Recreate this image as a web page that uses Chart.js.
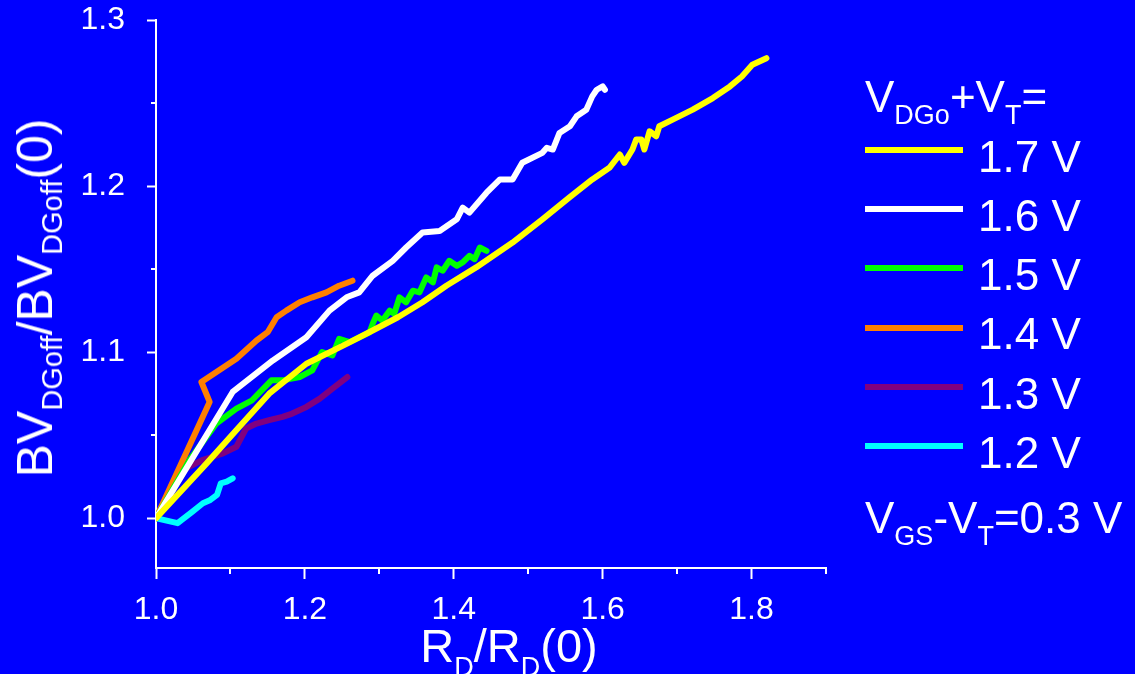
<!DOCTYPE html>
<html>
<head>
<meta charset="utf-8">
<script src="https://cdn.jsdelivr.net/npm/chart.js@4.4.1/dist/chart.umd.min.js"></script>
<style>
  body { margin: 0; background: #0000ff; }
  #wrap { position: relative; width: 1135px; height: 674px; overflow: hidden;
          font-family: 'Liberation Sans', Arial, sans-serif; color: #fff; }
  canvas { position: absolute; left: 0; top: 0; }
  .t { position: absolute; white-space: nowrap; line-height: 1; }
  .s { position: relative; line-height: 0; font-size: 27px; }
  .sw { position: absolute; height: 6px; width: 98px; left: 865px; }
</style>
</head>
<body>
<div id="wrap">
  <canvas id="chart" width="1135" height="674"></canvas>
  <div class="t" id="ytitle">BV<span class="s" style="top:10px;font-size:29px">DGoff</span>/BV<span class="s" style="top:10px;font-size:29px">DGoff</span>(0)</div>
  <div class="t" id="xtitle">R<span class="s" style="top:14px">D</span>/R<span class="s" style="top:14px">D</span>(0)</div>
  <div class="t" id="legtitle">V<span class="s" style="top:12px">DGo</span>+V<span class="s" style="top:12px">T</span>=</div>
  <div class="t" id="note">V<span class="s" style="top:12px">GS</span>-V<span class="s" style="top:12px">T</span>=0.3 V</div>
  <div id="legend"></div>
</div>
<script>
// R_D/R_D(0) vs BV_DGoff/BV_DGoff(0), one curve per V_DGo+V_T
const rd17 = [1.000, 1.068, 1.112, 1.152, 1.202, 1.256, 1.291, 1.325, 1.358, 1.390, 1.430, 1.479, 1.519, 1.555, 1.586, 1.609, 1.623, 1.629, 1.640, 1.645, 1.652, 1.656, 1.663, 1.672, 1.676, 1.694, 1.721, 1.748, 1.771, 1.787, 1.801, 1.820];
const bv17 = [1.000, 1.033, 1.055, 1.075, 1.093, 1.105, 1.113, 1.121, 1.130, 1.140, 1.151, 1.166, 1.180, 1.193, 1.204, 1.211, 1.219, 1.214, 1.222, 1.228, 1.228, 1.222, 1.233, 1.230, 1.236, 1.240, 1.246, 1.253, 1.260, 1.266, 1.273, 1.277];

const rd16 = [1.000, 1.103, 1.157, 1.202, 1.233, 1.256, 1.273, 1.291, 1.318, 1.336, 1.358, 1.381, 1.404, 1.412, 1.421, 1.444, 1.462, 1.479, 1.492, 1.519, 1.525, 1.533, 1.542, 1.556, 1.565, 1.578, 1.586, 1.592, 1.600, 1.603];
const bv16 = [1.000, 1.076, 1.095, 1.109, 1.125, 1.133, 1.136, 1.146, 1.155, 1.163, 1.172, 1.173, 1.180, 1.187, 1.184, 1.196, 1.204, 1.204, 1.214, 1.220, 1.223, 1.222, 1.232, 1.236, 1.242, 1.246, 1.254, 1.258, 1.260, 1.258];

const rd15 = [1.000, 1.045, 1.081, 1.108, 1.129, 1.155, 1.170, 1.193, 1.210, 1.223, 1.237, 1.246, 1.260, 1.287, 1.291, 1.296, 1.304, 1.314, 1.320, 1.327, 1.336, 1.345, 1.354, 1.363, 1.372, 1.377, 1.385, 1.394, 1.404, 1.412, 1.421, 1.428, 1.435, 1.444];
const bv15 = [1.000, 1.035, 1.057, 1.066, 1.071, 1.083, 1.083, 1.085, 1.089, 1.100, 1.098, 1.108, 1.106, 1.112, 1.117, 1.122, 1.119, 1.125, 1.123, 1.133, 1.130, 1.137, 1.136, 1.145, 1.142, 1.151, 1.149, 1.155, 1.152, 1.154, 1.158, 1.156, 1.163, 1.161];

const rd14 = [1.000, 1.072, 1.061, 1.108, 1.135, 1.150, 1.162, 1.175, 1.193, 1.210, 1.229, 1.246, 1.264];
const bv14 = [1.000, 1.070, 1.082, 1.096, 1.107, 1.112, 1.121, 1.125, 1.130, 1.133, 1.136, 1.140, 1.143];

const rd13 = [1.000, 1.036, 1.062, 1.090, 1.108, 1.121, 1.135, 1.152, 1.170, 1.183, 1.202, 1.220, 1.237, 1.257];
const bv13 = [1.000, 1.029, 1.035, 1.039, 1.043, 1.054, 1.057, 1.059, 1.061, 1.063, 1.067, 1.072, 1.078, 1.085];

const rd12 = [1.000, 1.029, 1.049, 1.063, 1.073, 1.082, 1.087, 1.095, 1.103];
const bv12 = [1.000, 0.997, 1.004, 1.009, 1.011, 1.014, 1.021, 1.022, 1.024];

const seriesLabels = ['1.7 V', '1.6 V', '1.5 V', '1.4 V', '1.3 V', '1.2 V'];
const seriesColors = ['#ffff00', '#ffffff', '#00ff00', '#ff8000', '#800080', '#00ffff'];
const seriesX = [rd17, rd16, rd15, rd14, rd13, rd12];
const seriesY = [bv17, bv16, bv15, bv14, bv13, bv12];

const xTicks = [1.0, 1.2, 1.4, 1.6, 1.8];
const xMinor = [1.1, 1.3, 1.5, 1.7, 1.9];
const yTicks = [1.0, 1.1, 1.2, 1.3];
const yMinor = [1.05, 1.15, 1.25];

const datasets = seriesLabels.map((lab, i) => ({
  label: lab,
  data: seriesX[i].map((x, k) => ({ x: x, y: seriesY[i][k] })),
  borderColor: seriesColors[i],
  backgroundColor: seriesColors[i],
  borderWidth: 6,
  showLine: true,
  pointRadius: 0,
  tension: 0,
  borderJoinStyle: 'round',
  borderCapStyle: 'round'
}));

// short minor ticks between the labelled ones
const minorTicks = {
  id: 'minorTicks',
  afterDraw(chart) {
    const ctx = chart.ctx;
    const xs = chart.scales.x, ys = chart.scales.y;
    ctx.save();
    ctx.strokeStyle = '#ffffff';
    ctx.lineWidth = 2;
    ctx.beginPath();
    xMinor.forEach(v => {
      const px = Math.round(xs.getPixelForValue(v));
      ctx.moveTo(px, xs.top);
      ctx.lineTo(px, xs.top + 6);
    });
    yMinor.forEach(v => {
      const py = Math.round(ys.getPixelForValue(v));
      ctx.moveTo(ys.right, py);
      ctx.lineTo(ys.right - 5, py);
    });
    ctx.stroke();
    ctx.restore();
  }
};

const tickFont = { family: "'Liberation Sans', Arial, sans-serif", size: 32 };

new Chart(document.getElementById('chart'), {
  type: 'scatter',
  data: { datasets: datasets },
  options: {
    responsive: false,
    animation: false,
    devicePixelRatio: 1,
    layout: { padding: { top: 20, right: 309, left: 0, bottom: 0 } },
    plugins: { legend: { display: false }, tooltip: { enabled: false } },
    scales: {
      x: {
        type: 'linear', min: 1.0, max: 1.9,
        afterBuildTicks: s => { s.ticks = xTicks.map(v => ({ value: v })); },
        afterFit: s => { s.height = 106; s.paddingLeft = 0; s.paddingRight = 0; },
        grid: { drawOnChartArea: false, drawTicks: true, tickLength: 11, tickColor: '#ffffff', tickWidth: 2 },
        border: { color: '#ffffff', width: 2 },
        ticks: { color: '#ffffff', font: tickFont, padding: 12, maxRotation: 0,
                 callback: v => Number(v).toFixed(1) }
      },
      y: {
        type: 'linear', min: 0.97, max: 1.3,
        afterBuildTicks: s => { s.ticks = yTicks.map(v => ({ value: v })); },
        afterFit: s => { s.width = 156; s.paddingTop = 0; s.paddingBottom = 0; },
        grid: { drawOnChartArea: false, drawTicks: true, tickLength: 9, tickColor: '#ffffff', tickWidth: 2 },
        border: { color: '#ffffff', width: 2 },
        ticks: { color: '#ffffff', font: tickFont, padding: 22,
                 callback: v => Number(v).toFixed(1) }
      }
    }
  },
  plugins: [minorTicks]
});

// text placed by baseline (Liberation Sans: baseline sits 0.8465 em below the top of a line-height:1 box)
function place(el, left, baseline, size) {
  el.style.fontSize = size + 'px';
  el.style.left = left + 'px';
  el.style.top = (baseline - 0.8465 * size) + 'px';
}

place(document.getElementById('legtitle'), 865, 112, 44);
place(document.getElementById('note'), 865, 533, 44);

const xt = document.getElementById('xtitle');
place(xt, 509, 662, 47);
xt.style.transform = 'translateX(-50%)';

const yt = document.getElementById('ytitle');
yt.style.fontSize = '50px';
yt.style.left = '35px';
yt.style.top = '298px';
yt.style.transform = 'translate(-50%,-50%) rotate(-90deg)';

const legend = document.getElementById('legend');
seriesLabels.forEach((lab, i) => {
  const rowY = 150 + i * 59.2;
  const sw = document.createElement('div');
  sw.className = 'sw';
  sw.style.top = (rowY - 3) + 'px';
  sw.style.background = seriesColors[i];
  legend.appendChild(sw);
  const tx = document.createElement('div');
  tx.className = 't';
  tx.textContent = lab;
  place(tx, 978, rowY + 22, 44);
  legend.appendChild(tx);
});
</script>
</body>
</html>
